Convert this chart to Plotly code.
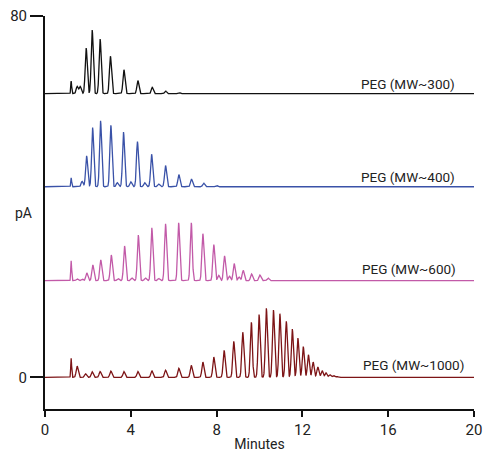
import numpy as np
import plotly.graph_objects as go

# Peak retention times (min) and heights (pA)
peg300_t = [1.22, 1.50, 1.64, 1.92, 2.20, 2.57, 3.05, 3.68, 4.33, 5.00, 5.62, 6.24]
peg300_h = [2.8, 1.6, 1.6, 10.1, 14.1, 12.1, 8.3, 5.3, 2.9, 1.4, 0.6, 0.3]

peg400_t = [1.22, 1.73, 1.94, 2.22, 2.59, 3.07, 3.37, 3.66, 4.00, 4.31, 4.65, 4.97, 5.30,
            5.62, 6.24, 6.83, 7.40, 8.0]
peg400_h = [2.0, 1.2, 6.85, 13.1, 14.6, 13.6, 0.9, 12.1, 1.1, 10.0, 0.9, 7.2, 0.6,
            4.7, 2.7, 1.7, 0.8, 0.3]

peg600_t = [1.22, 1.50, 1.73, 1.95, 2.23, 2.60, 3.09, 3.40, 3.71, 4.05, 4.35, 4.68, 4.98,
            5.30, 5.62, 6.23, 6.82, 7.36, 7.87, 8.10, 8.37, 8.60, 8.82, 9.05, 9.24, 9.63,
            10.02, 10.40]
peg600_h = [4.4, 0.4, 0.4, 1.7, 3.5, 4.6, 5.7, 0.5, 7.7, 0.6, 10.1, 0.6, 11.7,
            0.5, 12.6, 12.8, 12.8, 10.4, 8.0, 1.2, 5.5, 1.0, 3.8, 0.8, 2.3, 1.5,
            1.25, 0.6]

peg1000_t = [1.22, 1.50, 1.89, 2.20, 2.57, 3.07, 3.68, 4.33, 4.98, 5.62, 6.24, 6.82, 7.36,
             7.87, 8.35, 8.80, 9.22, 9.62, 9.98, 10.32, 10.65, 10.95, 11.25, 11.53, 11.79,
             12.04, 12.28, 12.50, 12.72, 12.92, 13.10, 13.28, 13.45, 13.62]
peg1000_h = [4.2, 2.5, 0.8, 1.25, 1.3, 1.4, 1.3, 1.3, 1.5, 1.6, 2.0, 2.65, 3.4,
             4.5, 6.0, 8.0, 10.0, 12.2, 13.9, 15.3, 14.9, 14.1, 12.4, 10.7, 8.7,
             6.8, 5.0, 3.4, 2.3, 1.5, 1.0, 0.6, 0.4, 0.2]

offsets = [62.8, 42.2, 21.4, 0.0]
names = ["PEG (MW~300)", "PEG (MW~400)", "PEG (MW~600)", "PEG (MW~1000)"]
colors = ["#111111", "#3a52a8", "#c25aa8", "#7d1416"]
x_ticks = [0, 4, 8, 12, 16, 20]

series = [(peg300_t, peg300_h), (peg400_t, peg400_h), (peg600_t, peg600_h), (peg1000_t, peg1000_h)]

t = np.linspace(0, 20, 4001)


def trace_signal(times, heights, base):
    y = np.full_like(t, base)
    for p, h in zip(times, heights):
        s = 0.02 if p < 1.3 else 0.047
        y += h * np.exp(-0.5 * ((t - p) / s) ** 2)
    return y


fig = go.Figure()
for (tt, hh), off, nm, c in zip(series, offsets, names, colors):
    fig.add_trace(go.Scatter(x=t, y=trace_signal(tt, hh, off), mode="lines",
                             line=dict(color=c, width=1.3), name=nm, showlegend=False,
                             hoverinfo="skip"))

font_family = "Roboto, Liberation Sans, sans-serif"

label_pos = [(19.19, 65.0), (19.19, 44.4), (19.24, 24.1), (19.61, 2.65)]
for nm, (lx, ly) in zip(names, label_pos):
    fig.add_annotation(x=lx, y=ly, text=nm, showarrow=False, xanchor="right", yanchor="middle",
                       font=dict(family=font_family, size=13.5, color="#222"))

fig.add_annotation(x=-0.05, y=0.5, xref="paper", yref="paper", text="pA", showarrow=False,
                   xanchor="center", yanchor="middle",
                   font=dict(family=font_family, size=14, color="#222"))

fig.update_layout(
    width=486, height=452,
    margin=dict(l=45, r=12, t=16, b=43),
    plot_bgcolor="white", paper_bgcolor="white",
    font=dict(family=font_family, size=14, color="#222"),
    xaxis=dict(range=[0, 20], tickvals=x_ticks, showgrid=False, zeroline=False,
               showline=True, linecolor="#111", linewidth=2, ticks="outside",
               ticklen=6, tickwidth=1.5, tickcolor="#111", automargin=False,
               tickfont=dict(size=15),
               title=dict(text="Minutes", standoff=2, font=dict(size=14))),
    yaxis=dict(range=[-7, 80], tickvals=[0, 80], showgrid=False, zeroline=False,
               showline=True, linecolor="#111", linewidth=2, ticks="outside",
               ticklen=13, tickwidth=1.5, tickcolor="#111", automargin=False,
               tickfont=dict(size=15)),
)

fig.write_html("out.html", config={"displayModeBar": False},
               post_script="document.body.style.margin='0';")
